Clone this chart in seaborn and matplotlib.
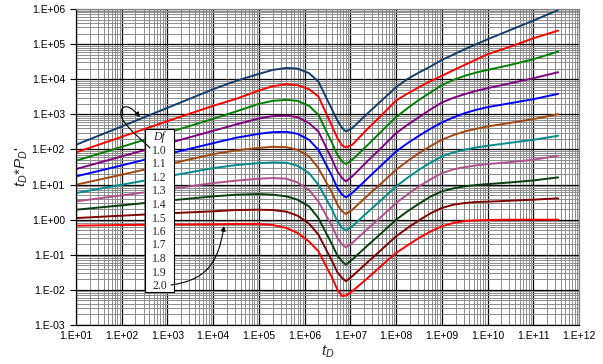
import numpy as np
import pandas as pd
import matplotlib
matplotlib.use("Agg")
import matplotlib.pyplot as plt
import seaborn as sns
from matplotlib.ticker import LogLocator, FuncFormatter, NullFormatter
from matplotlib.path import Path
from matplotlib.patches import FancyArrowPatch, Rectangle

# ---------------- data ----------------
t_D = [1e1, 1e2, 1e3, 1e4, 3.16e4, 1e5, 2e5, 4e5, 7e5, 1.25e6, 2e6, 4e6, 5.2e6,
       6.6e6, 8e6, 1.1e7, 2.5e7, 5e7, 1e8, 1.78e8, 3.16e8, 5.62e8, 1e9, 1.78e9,
       3.16e9, 5.62e9, 1e10, 3.16e10, 1e11, 3.5e11]

df_labels = ["1.0", "1.1", "1.2", "1.3", "1.4", "1.5", "1.6", "1.7", "1.8", "1.9", "2.0"]

deriv_df10 = [136, 451, 1531, 5200, 8970, 14190, 18410, 20990, 20090, 14830, 8590, 1343, 668,
              405, 325, 405, 1127, 2583, 5929, 10210, 15490, 22910, 35480, 50230,
              71290, 98860, 137100, 252900, 465600, 937600]
deriv_df11 = [82.2, 229, 640, 1746, 2761, 4764, 6324, 7211, 6745, 5200, 3214, 451, 210,
              130, 114, 136, 413, 989, 2472, 3909, 5929, 8770, 12450, 18030,
              25590, 36240, 51400, 84920, 146600, 242100]
deriv_df12 = [47.6, 119, 298, 745, 1205, 1991, 2421, 2582, 2421, 1746, 968, 151, 70.5,
              45.6, 38.3, 50.8, 142, 347, 830, 1496, 2582, 4170, 6760, 9550,
              12450, 15490, 18410, 25590, 37070, 61240]
deriv_df13 = [27.6, 63.2, 148, 340, 514, 762, 887, 927, 830, 561, 325, 50.8, 23.7,
              15.3, 12.3, 17.1, 49.8, 119, 291, 503, 830, 1371, 2168, 2946,
              3741, 4656, 5546, 7691, 10670, 15810]
deriv_df14 = [17.1, 35.1, 73.6, 151, 215, 279, 311, 318, 279, 188, 97.9, 17.1, 7.94,
              5.14, 4.32, 5.73, 16.0, 37.4, 87.7, 151, 245, 387, 586, 813,
              1079, 1343, 1600, 2080, 2698, 3828]
deriv_df15 = [9.89, 19.1, 37.4, 73.6, 93.8, 111, 119, 116, 97.9, 63.2, 29.4, 5.73, 2.67,
              1.73, 1.45, 1.92, 5.14, 11.5, 26.4, 46.6, 78.7, 124, 188, 256,
              325, 387, 451, 573, 729, 1012]
deriv_df16 = [5.73, 9.89, 17.1, 29.4, 35.9, 40.8, 42.7, 41.8, 34.4, 21.2, 9.89, 1.92, 0.898,
              0.579, 0.498, 0.646, 1.73, 3.87, 8.87, 15.6, 26.4, 41.8, 63.2, 82.2,
              97.9, 114, 127, 155, 188, 245]
deriv_df17 = [3.32, 4.92, 7.29, 11.0, 12.9, 14.7, 15.3, 14.7, 11.5, 6.98, 3.32, 0.646, 0.301,
              0.195, 0.163, 0.217, 0.579, 1.30, 2.98, 5.25, 8.87, 14.0, 21.2, 27.0,
              31.5, 35.1, 38.3, 43.6, 50.8, 66.1]
deriv_df18 = [1.92, 2.56, 3.47, 4.61, 5.14, 5.37, 5.14, 4.61, 3.71, 2.39, 1.11, 0.195, 0.0946,
              0.0653, 0.0525, 0.0729, 0.195, 0.436, 1.0, 1.73, 2.85, 4.51, 6.40, 7.78,
              8.87, 9.68, 10.3, 11.5, 13.1, 16.0]
deriv_df19 = [1.11, 1.30, 1.51, 1.73, 1.88, 1.92, 1.88, 1.69, 1.30, 0.769, 0.374, 0.0653, 0.0318,
              0.0219, 0.0176, 0.0245, 0.0653, 0.147, 0.336, 0.579, 0.957, 1.51, 2.15, 2.67,
              2.98, 3.18, 3.25, 3.47, 3.71, 4.05]
deriv_df20 = [0.675, 0.705, 0.721, 0.737, 0.753, 0.753, 0.705, 0.579, 0.418, 0.237, 0.126, 0.0219, 0.0102,
              0.0067, 0.0069, 0.00916, 0.0229, 0.0514, 0.113, 0.186, 0.301, 0.456, 0.646, 0.804,
              0.916, 0.957, 0.979, 1.0, 1.0, 1.0]

series = [deriv_df10, deriv_df11, deriv_df12, deriv_df13, deriv_df14, deriv_df15,
          deriv_df16, deriv_df17, deriv_df18, deriv_df19, deriv_df20]

colors = ["#123d6c", "#ff0000", "#008000", "#800080", "#0000ff", "#a3460f",
          "#008c8c", "#b0508c", "#06400c", "#800000", "#ff0000"]

x_tick_exps = list(range(1, 13))
y_tick_exps = list(range(-3, 7))

rows = []
for lab, vals in zip(df_labels, series):
    for t, v in zip(t_D, vals):
        rows.append({"tD": t, "deriv": v, "Df": lab})
data = pd.DataFrame(rows)

# ---------------- style ----------------
sns.set_theme(style="white")
plt.rcParams["font.family"] = ["Liberation Sans", "DejaVu Sans"]
plt.rcParams["mathtext.fontset"] = "custom"
plt.rcParams["mathtext.it"] = "Liberation Sans:italic"
plt.rcParams["mathtext.rm"] = "Liberation Sans"

W, H = 603, 364
fig = plt.figure(figsize=(W / 100, H / 100), dpi=100)
fig.patch.set_facecolor("white")
ax = fig.add_axes([76 / W, 1 - 325 / H, (579 - 76) / W, (325 - 9) / H])

sns.lineplot(data=data, x="tD", y="deriv", hue="Df", palette=colors, legend=False,
             linewidth=1.4, ax=ax, estimator=None, sort=False)

ax.set_xscale("log")
ax.set_yscale("log")
ax.set_xlim(10 ** x_tick_exps[0], 10 ** x_tick_exps[-1])
ax.set_ylim(10.0 ** y_tick_exps[0], 10.0 ** y_tick_exps[-1])

ax.set_xticks([10.0 ** e for e in x_tick_exps])
ax.set_yticks([10.0 ** e for e in y_tick_exps])
fmt = FuncFormatter(lambda v, p: "1.E{:+03d}".format(int(round(np.log10(v)))))
ax.xaxis.set_major_formatter(fmt)
ax.yaxis.set_major_formatter(fmt)
ax.xaxis.set_minor_locator(LogLocator(base=10, subs=np.arange(2, 10), numticks=100))
ax.yaxis.set_minor_locator(LogLocator(base=10, subs=np.arange(2, 10), numticks=100))
ax.xaxis.set_minor_formatter(NullFormatter())
ax.yaxis.set_minor_formatter(NullFormatter())

ax.grid(which="minor", color="#8c8c8c", linewidth=0.7)
ax.grid(which="major", color="black", linewidth=0.9)
ax.set_axisbelow(True)

ax.tick_params(axis="both", which="major", labelsize=7.5, colors="black", pad=4)
ax.tick_params(axis="y", which="major", direction="out", length=4, width=0.8, left=True)
ax.tick_params(axis="x", which="major", direction="out", length=0, bottom=True)
ax.tick_params(which="minor", length=0)

for s in ["left", "bottom"]:
    ax.spines[s].set_color("black")
    ax.spines[s].set_linewidth(0.9)
for s in ["top", "right"]:
    ax.spines[s].set_color("#808080")
    ax.spines[s].set_linewidth(0.9)

ax.set_xlabel(r"$t_D$", fontsize=11, labelpad=2)
ax.set_ylabel(r"$t_D$*$P_D$'", fontsize=11, labelpad=1)

# ---------------- Df label box ----------------
def fx(px):
    return px / W

def fy(py):
    return 1 - py / H

box = Rectangle((fx(145), fy(292)), fx(174) - fx(145), fy(129) - fy(292),
                transform=fig.transFigure, facecolor="white", edgecolor="black",
                linewidth=0.8, zorder=5)
fig.add_artist(box)
fig.text(fx(159.5), fy(137), "Df", family="Liberation Serif", style="italic",
         fontsize=8.5, ha="center", va="center", zorder=6)
for i, lab in enumerate(df_labels):
    fig.text(fx(159.5), fy(151 + 13.5 * i), lab, family="Liberation Serif",
             fontsize=8.5, ha="center", va="center", zorder=6)

# arrows
p1 = Path([(fx(150), fy(148)), (fx(136), fy(134)), (fx(116), fy(120)), (fx(122), fy(109)),
           (fx(126), fy(103)), (fx(134), fy(110)), (fx(140), fy(117))],
          [Path.MOVETO, Path.CURVE4, Path.CURVE4, Path.CURVE4,
           Path.CURVE4, Path.CURVE4, Path.CURVE4])
a1 = FancyArrowPatch(path=p1, arrowstyle="-|>", mutation_scale=7, color="black",
                     linewidth=0.8, transform=fig.transFigure, zorder=7)
fig.add_artist(a1)

p2 = Path([(fx(171), fy(285)), (fx(205), fy(280)), (fx(218), fy(265)), (fx(224), fy(226))],
          [Path.MOVETO, Path.CURVE4, Path.CURVE4, Path.CURVE4])
a2 = FancyArrowPatch(path=p2, arrowstyle="-|>", mutation_scale=7, color="black",
                     linewidth=0.8, transform=fig.transFigure, zorder=7)
fig.add_artist(a2)

fig.savefig("out.png", dpi=100)
